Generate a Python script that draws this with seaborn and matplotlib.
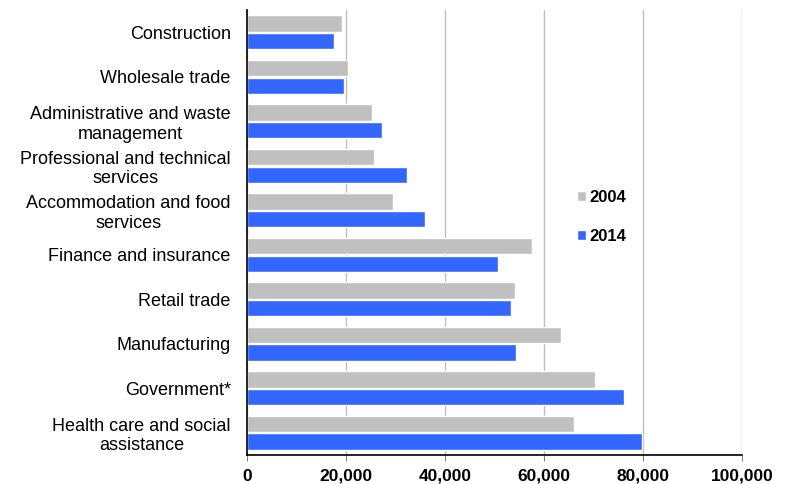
import numpy as np
import pandas as pd
import seaborn as sns
import matplotlib.pyplot as plt
from matplotlib.ticker import FuncFormatter, FixedLocator

# industries, top to bottom as drawn
industries = ["Construction", "Wholesale trade", "Administrative and waste\nmanagement",
              "Professional and technical\nservices", "Accommodation and food\nservices",
              "Finance and insurance", "Retail trade", "Manufacturing", "Government*",
              "Health care and social\nassistance"]
vals_2004 = [19200, 20300, 25200, 25500, 29400, 57600, 54100, 63300, 70300, 66000]
vals_2014 = [17500, 19500, 27200, 32200, 35800, 50600, 53200, 54300, 76100, 79700]
years = ["2004", "2014"]

df = pd.DataFrame({
   "industry": industries * 2,
   "value": vals_2004 + vals_2014,
   "year": [years[0]] * len(industries) + [years[1]] * len(industries),
})

sns.set_style("white")
plt.rcParams["font.family"] = ["Liberation Sans", "DejaVu Sans"]
plt.rcParams["text.color"] = "black"
plt.rcParams["xtick.labelcolor"] = "black"
plt.rcParams["ytick.labelcolor"] = "black"

fig = plt.figure(figsize=(7.88, 4.84), dpi=100)
ax = fig.add_axes([0.314, 0.060, 0.628, 0.919])

sns.barplot(data=df, y="industry", x="value", hue="year", orient="h",
            palette={"2004": "#C0C0C0", "2014": "#3366FF"},
            width=0.8, gap=0.08, ax=ax, saturation=1, legend=True)

ax.set_xlim(0, 100000)
ax.set_ylim(len(industries) - 0.5, -0.5)
ax.set_xticks(np.arange(0, 100001, 20000))
ax.xaxis.set_major_formatter(FuncFormatter(lambda v, p: f"{int(v):,}"))
for t in ax.get_xticklabels():
   t.set_fontweight("bold")
   t.set_fontsize(12.5)
   t.set_color("black")
ax.grid(axis="x", color="#C0C0C0", linewidth=1)
ax.set_axisbelow(True)

ax.set_yticks(range(len(industries)))
ax.set_yticklabels(industries, fontsize=13, multialignment="center", color="black")
ax.tick_params(axis="y", length=0, pad=12)
ax.yaxis.set_minor_locator(FixedLocator(np.arange(-0.5, len(industries), 1)))
ax.tick_params(axis="y", which="minor", length=4, color="#808080")
ax.tick_params(axis="x", length=4, color="#808080", direction="out", bottom=True, pad=6)

ax.set_xlabel("")
ax.set_ylabel("")
for s in ["top", "right"]:
   ax.spines[s].set_visible(False)
for s in ["left", "bottom"]:
   ax.spines[s].set_color("black")
   ax.spines[s].set_linewidth(1.2)

leg = ax.legend(loc="upper left", bbox_to_anchor=(0.635, 0.63), frameon=False,
                handlelength=0.55, handleheight=0.55, handletextpad=0.2,
                labelspacing=1.45, prop={"weight": "bold", "size": 12})
for t in leg.get_texts():
   t.set_color("black")

fig.savefig("out.png", dpi=100)
